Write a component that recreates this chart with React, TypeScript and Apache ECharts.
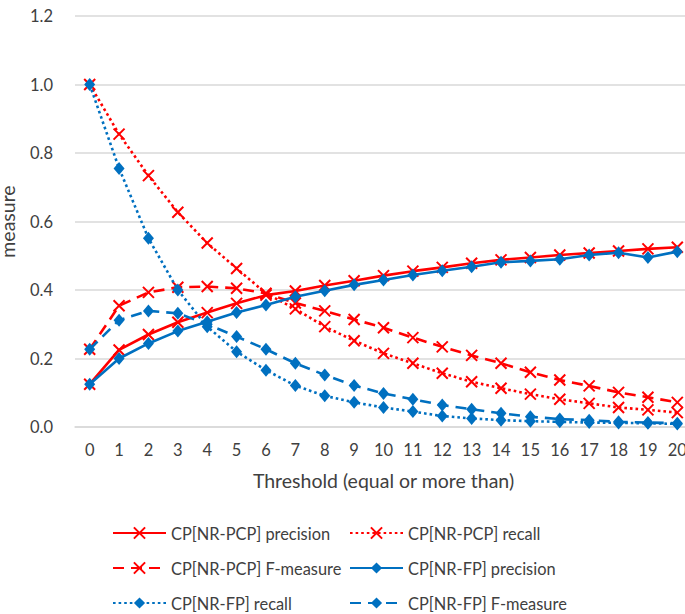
import React, { useEffect, useRef } from "react";
import * as echarts from "echarts";

const thresholds = ["0","1","2","3","4","5","6","7","8","9","10","11","12","13","14","15","16","17","18","19","20"];
const yTicks = [0, 0.2, 0.4, 0.6, 0.8, 1.0, 1.2];

const pcpPrecision = [0.125, 0.225, 0.27, 0.306, 0.334, 0.361, 0.385, 0.397, 0.413, 0.427, 0.442, 0.455, 0.466, 0.478, 0.488, 0.495, 0.502, 0.508, 0.514, 0.52, 0.525];
const pcpRecall = [1.0, 0.855, 0.734, 0.627, 0.537, 0.463, 0.39, 0.345, 0.293, 0.252, 0.215, 0.186, 0.157, 0.132, 0.113, 0.096, 0.081, 0.069, 0.057, 0.05, 0.042];
const pcpF = [0.227, 0.354, 0.393, 0.408, 0.41, 0.405, 0.39, 0.362, 0.339, 0.314, 0.29, 0.261, 0.234, 0.209, 0.186, 0.16, 0.137, 0.12, 0.101, 0.087, 0.072];
const fpPrecision = [0.125, 0.2, 0.244, 0.28, 0.307, 0.334, 0.356, 0.38, 0.398, 0.415, 0.429, 0.444, 0.456, 0.468, 0.481, 0.485, 0.49, 0.502, 0.509, 0.495, 0.512];
const fpRecall = [1.0, 0.755, 0.551, 0.40, 0.293, 0.22, 0.166, 0.121, 0.091, 0.072, 0.057, 0.045, 0.032, 0.025, 0.02, 0.017, 0.015, 0.013, 0.012, 0.011, 0.009];
const fpF = [0.227, 0.312, 0.339, 0.332, 0.30, 0.264, 0.227, 0.186, 0.152, 0.121, 0.098, 0.081, 0.064, 0.052, 0.04, 0.03, 0.023, 0.02, 0.015, 0.013, 0.011];

const seriesNames = [
  "CP[NR-PCP] precision",
  "CP[NR-PCP] recall",
  "CP[NR-PCP] F-measure",
  "CP[NR-FP] precision",
  "CP[NR-FP] recall",
  "CP[NR-FP] F-measure",
];

const RED = "#ff0000";
const BLUE = "#0070c0";
const TEXT = "#404040";
const FONT = "Lato, 'Open Sans', sans-serif";
const CROSS = "path://M0,0L10,10M10,0L0,10";
const SOLID: any = "solid";
const DASH = [11, 7];
const DOT = [2.6, 3];

function mk(name: string, data: number[], color: string, lineType: any, cross: boolean, z: number) {
  return {
    name,
    type: "line",
    data,
    z,
    symbol: cross ? CROSS : "diamond",
    symbolSize: cross ? 11 : [11, 13],
    showSymbol: true,
    lineStyle: { color, width: 2.6, type: lineType },
    itemStyle: cross
      ? { color: RED, borderColor: RED, borderWidth: 2 }
      : { color: BLUE, borderColor: BLUE, borderWidth: 0 },
    emphasis: { disabled: true },
  };
}

// legend slots: [series index, column]
const legendSlots = [
  [0, 0], [1, 1],
  [2, 0], [3, 1],
  [4, 0], [5, 1],
];

export default function App() {
  const ref = useRef<HTMLDivElement>(null);
  useEffect(() => {
    const chart = echarts.init(ref.current!, null, { renderer: "svg" });
    const colLeft = [107, 344];
    const rowCenter = [535, 570, 605];
    const legends = legendSlots.map(([si, col], k) => ({
      orient: "horizontal",
      left: colLeft[col],
      top: rowCenter[Math.floor(k / 2)] - 15,
      itemWidth: 53,
      itemHeight: 14,
      textStyle: { color: TEXT, fontSize: 16.4, fontFamily: FONT },
      selectedMode: false,
      data: [seriesNames[si]],
    }));
    chart.setOption({
      animation: false,
      backgroundColor: "#ffffff",
      grid: { left: 75, top: 16, width: 617, height: 411, outerBoundsMode: "none", containLabel: false },
      xAxis: {
        type: "category",
        data: thresholds,
        boundaryGap: true,
        axisLine: { show: true, lineStyle: { color: "#d9d9d9", width: 1.5 } },
        axisTick: { show: false },
        axisLabel: { color: TEXT, fontSize: 16.5, fontFamily: FONT, margin: 14, interval: 0 },
        name: "Threshold (equal or more than)",
        nameLocation: "middle",
        nameGap: 43,
        nameMoveOverlap: false,
        nameTextStyle: { color: TEXT, fontSize: 19.5, fontFamily: FONT },
      },
      yAxis: {
        type: "value",
        min: yTicks[0],
        max: yTicks[yTicks.length - 1],
        interval: 0.2,
        axisLine: { show: false },
        axisTick: { show: false },
        splitLine: { lineStyle: { color: "#d9d9d9", width: 1.5 } },
        axisLabel: {
          color: TEXT,
          fontSize: 16.5,
          fontFamily: FONT,
          margin: 22,
          formatter: (v: number) => v.toFixed(1),
        },
        name: "measure",
        nameLocation: "middle",
        nameGap: 58,
        nameRotate: 90,
        nameMoveOverlap: false,
        nameTextStyle: { color: TEXT, fontSize: 19.5, fontFamily: FONT },
      },
      legend: legends,
      series: [
        mk(seriesNames[0], pcpPrecision, RED, SOLID, true, 2),
        mk(seriesNames[1], pcpRecall, RED, DOT, true, 2),
        mk(seriesNames[2], pcpF, RED, DASH, true, 2),
        mk(seriesNames[3], fpPrecision, BLUE, SOLID, false, 3),
        mk(seriesNames[4], fpRecall, BLUE, DOT, false, 3),
        mk(seriesNames[5], fpF, BLUE, DASH, false, 3),
      ],
    });
    return () => chart.dispose();
  }, []);
  return (
    <div
      ref={ref}
      style={{ position: "absolute", left: 0, top: 0, width: 685, height: 614, background: "#fff" }}
    />
  );
}
